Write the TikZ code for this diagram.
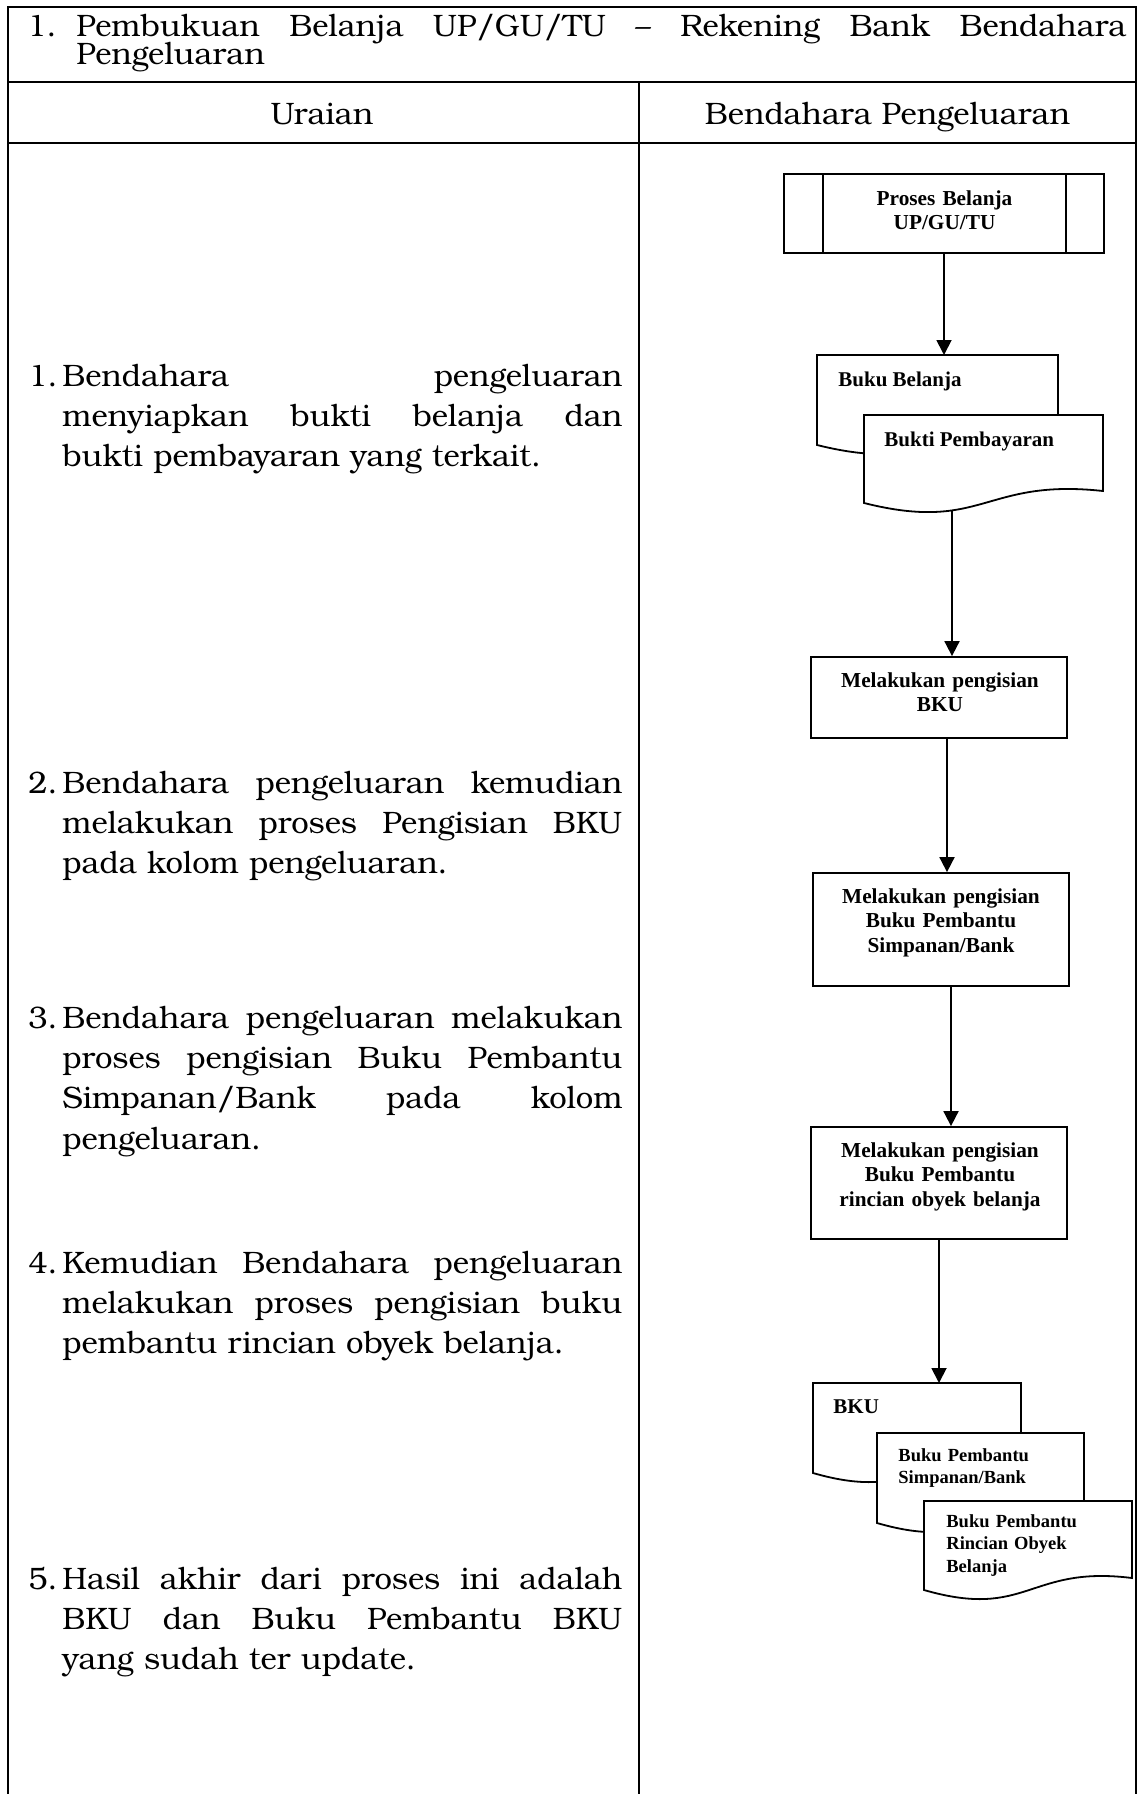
\documentclass[tikz,border=0pt]{standalone}
\usepackage{fontspec}
\setmainfont{TeX Gyre Bonum}
\newfontfamily\fcfont{Liberation Serif}
\usetikzlibrary{arrows.meta,fit,calc}
\newcommand{\jl}[1]{\makebox[280pt][s]{\spaceskip=0pt\xspaceskip=0pt\relax #1}}
\begin{document}
\begin{tikzpicture}[x=0.5pt,y=-0.5pt,
  tline/.style={line width=1pt},
  fline/.style={line width=0.9pt},
  arr/.style={line width=0.9pt,-{Triangle[width=7.5pt,length=7.5pt]}},
  bodytxt/.style={inner sep=0pt, anchor=base west, font=\fontsize{15.5}{20.2}\selectfont},
  itemtxt/.style={bodytxt, text width=280pt, align=left},
  procbox/.style={draw, fline, inner sep=0pt, fill=white},
  fctxt/.style={inner sep=0pt, anchor=base, text width=130pt, align=center, font=\fcfont\bfseries\fontsize{10.65}{12.4}\selectfont},
  doctxt/.style={inner sep=0pt, anchor=base west, font=\fcfont\bfseries\fontsize{10.5}{12.5}\selectfont},
  doctxts/.style={inner sep=0pt, anchor=base west, text width=90pt, align=left, font=\fcfont\bfseries\fontsize{9.25}{11.25}\selectfont},
  docshape/.style={fline, fill=white, line join=miter}
]
\useasboundingbox (0,0) rectangle (1139,1794);
% table
\draw[tline] (8,1794) -- (8,7) -- (1136,7) -- (1136,1794);
\draw[tline] (8,82) -- (1136,82);
\draw[tline] (8,143) -- (1136,143);
\draw[tline] (639,82) -- (639,1794);
% title and header
\node[bodytxt] (tnum) at (27,36) {1.};
\node[bodytxt] (title1) at (76,36) {\makebox[525pt][s]{Pembukuan Belanja UP/GU/TU – Rekening Bank Bendahara}};
\node[bodytxt] (title2) at (76,64) {Pengeluaran};
\node[bodytxt, anchor=base] (h1) at (322,124) {Uraian};
\node[bodytxt, anchor=base] (h2) at (887.5,124) {Bendahara Pengeluaran};
% items
\node[bodytxt] (n1) at (28,386) {1.};
\node[itemtxt] (t1) at (62,386) {\jl{Bendahara pengeluaran}\\\jl{menyiapkan bukti belanja dan}\\bukti pembayaran yang terkait.};
\node[bodytxt] (n2) at (28,793) {2.};
\node[itemtxt] (t2) at (62,793) {\jl{Bendahara pengeluaran kemudian}\\\jl{melakukan proses Pengisian BKU}\\pada kolom pengeluaran.};
\node[bodytxt] (n3) at (28,1028) {3.};
\node[itemtxt] (t3) at (62,1028) {\jl{Bendahara pengeluaran melakukan}\\\jl{proses pengisian Buku Pembantu}\\\jl{Simpanan/Bank pada kolom}\\pengeluaran.};
\node[bodytxt] (n4) at (28,1273) {4.};
\node[itemtxt] (t4) at (62,1273) {\jl{Kemudian Bendahara pengeluaran}\\\jl{melakukan proses pengisian buku}\\pembantu rincian obyek belanja.};
\node[bodytxt] (n5) at (28,1589) {5.};
\node[itemtxt] (t5) at (62,1589) {\jl{Hasil akhir dari proses ini adalah}\\\jl{BKU dan Buku Pembantu BKU}\\yang sudah ter update.};
% flowchart
\node[procbox, fit={(784,174) (1104,253)}] (p0) {};
\draw[fline] (823,174) -- (823,253);
\draw[fline] (1066,174) -- (1066,253);
\node[fctxt] (p0t) at (944.5,205) {Proses Belanja\\UP/GU/TU};
\coordinate (d1top) at (944,355);
\draw[arr] (p0.south) -- (d1top);
% multi document 1
\draw[docshape] (817,445) -- (817,355) -- (1058,355) -- (1058,433) .. controls (937.5,420) and (937.5,475) .. (817,445) -- cycle;
\node[doctxt] (d1t) at (838,386) {Buku Belanja};
\draw[docshape] (864,503) -- (864,415) -- (1103,415) -- (1103,491) .. controls (983.5,478) and (983.5,533) .. (864,503) -- cycle;
\node[doctxt] (d2t) at (884,446) {Bukti Pembayaran};
\coordinate (d2bot) at (952,511);
% process boxes
\node[procbox, fit={(811,657) (1067,738)}] (b1) {};
\node[fctxt] (b1t) at (940,687) {Melakukan pengisian\\BKU};
\draw[arr] (d2bot) -- (d2bot |- b1.north);
\node[procbox, fit={(813,873) (1069,986)}] (b2) {};
\node[fctxt] (b2t) at (941,903) {Melakukan pengisian\\Buku Pembantu\\Simpanan/Bank};
\draw[arr] ([xshift=4pt]b1.south) -- ([xshift=4pt]b1.south |- b2.north);
\node[procbox, fit={(811,1127) (1067,1239)}] (b3) {};
\node[fctxt] (b3t) at (940,1157) {Melakukan pengisian\\Buku Pembantu\\rincian obyek belanja};
\draw[arr] ([xshift=5pt]b2.south) -- ([xshift=5pt]b2.south |- b3.north);
\coordinate (d3top) at (939,1383);
\draw[arr] (b3.south) -- (d3top);
% multi document 2
\draw[docshape] (813,1473) -- (813,1383) -- (1021,1383) -- (1021,1461) .. controls (917,1448) and (917,1503) .. (813,1473) -- cycle;
\node[doctxt] (d3t) at (833,1413) {BKU};
\draw[docshape] (877,1523) -- (877,1433) -- (1084,1433) -- (1084,1511) .. controls (980.5,1498) and (980.5,1553) .. (877,1523) -- cycle;
\node[doctxts] (d4t) at (898,1461) {Buku Pembantu\\Simpanan/Bank};
\draw[docshape] (924,1590) -- (924,1501) -- (1132,1501) -- (1132,1578) .. controls (1028,1565) and (1028,1620) .. (924,1590) -- cycle;
\node[doctxts] (d5t) at (946,1527) {Buku Pembantu\\Rincian Obyek\\Belanja};
\end{tikzpicture}
\end{document}
